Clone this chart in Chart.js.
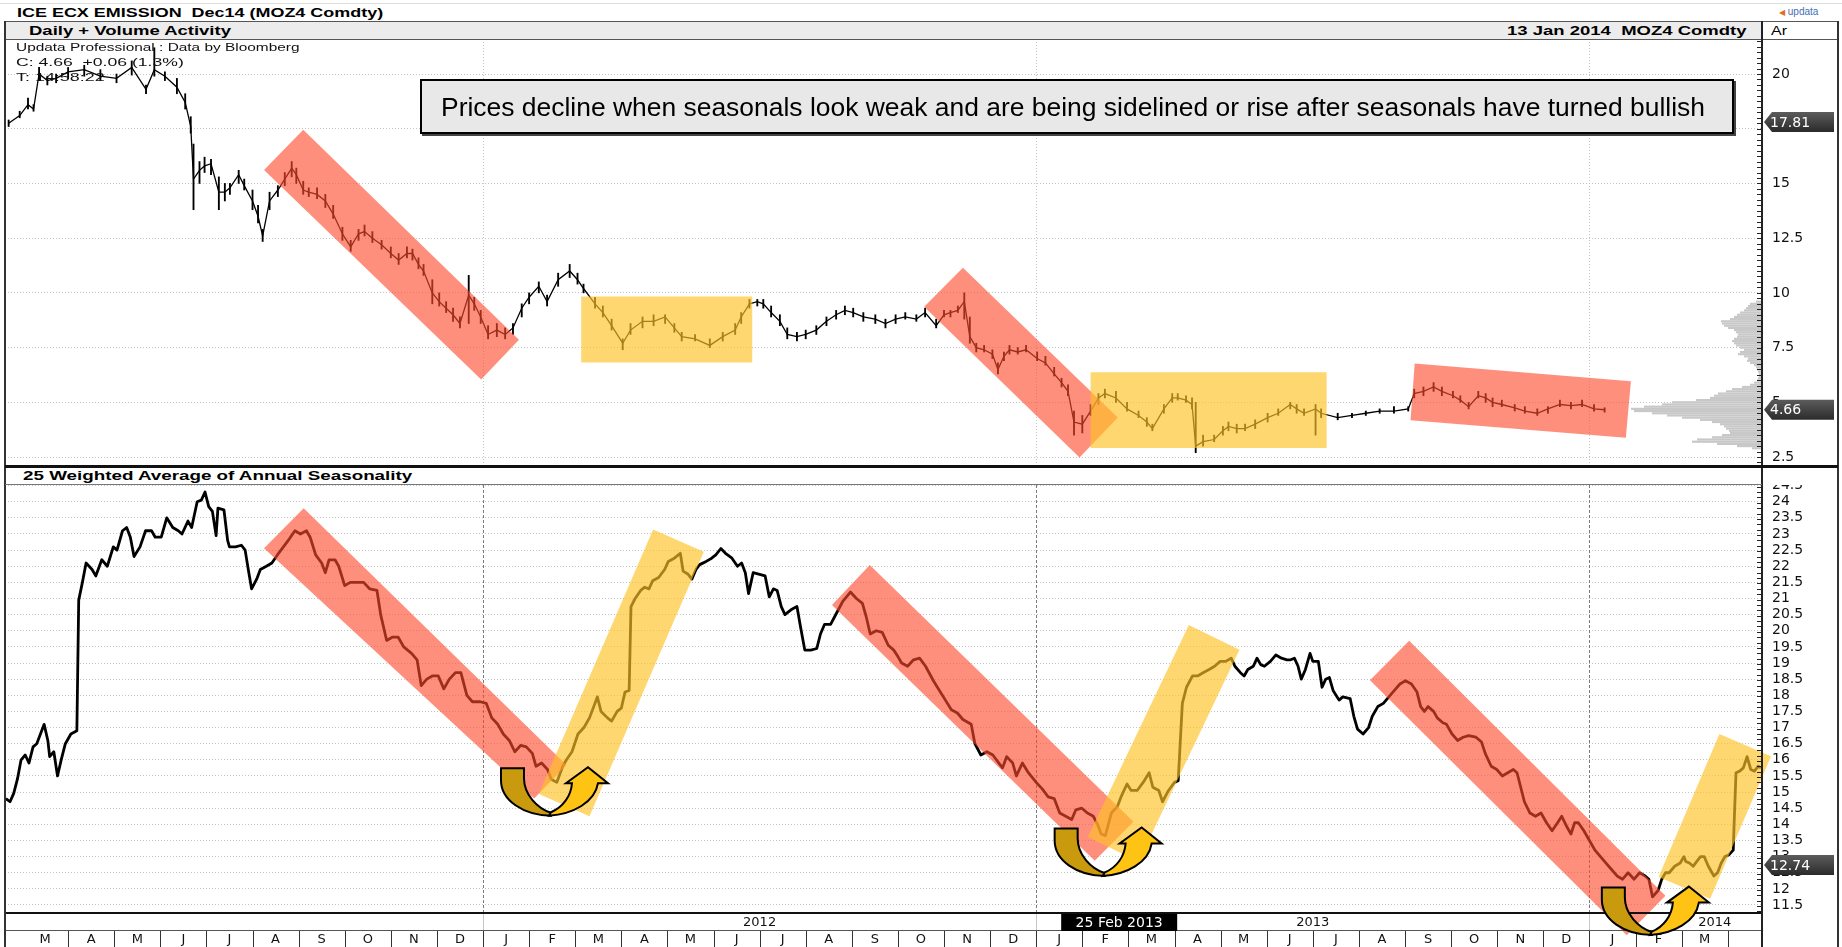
<!DOCTYPE html>
<html><head><meta charset="utf-8">
<script src="https://cdn.jsdelivr.net/npm/chart.js@4.4.1/dist/chart.umd.min.js"></script>
<style>
html,body{margin:0;padding:0;background:#fff;}
body{width:1842px;height:947px;position:relative;overflow:hidden;font-family:'Liberation Sans',Arial,sans-serif;color:#000;}
.abs{position:absolute;}
canvas{position:absolute;left:0;}
.fit{position:absolute;white-space:nowrap;transform-origin:0 50%;line-height:1;}
</style></head><body>

<canvas id="cTop" width="1842" height="427" style="top:39px"></canvas>
<canvas id="cBot" width="1842" height="462" style="top:485px"></canvas>

<!-- frame -->
<div class="abs" style="left:0;top:3px;width:1842px;height:1px;background:#dedede"></div>
<div class="abs" style="left:5px;top:21px;width:1757px;height:17px;background:#ececec;border-top:1px solid #555;border-bottom:1px solid #555"></div>
<div class="abs" style="left:1762px;top:21px;width:76px;height:17px;background:#fff;border-top:1px solid #555;border-bottom:1px solid #555"></div>
<div class="abs" style="left:4px;top:21px;width:2px;height:926px;background:#333"></div>
<div class="abs" style="left:1761px;top:21px;width:2px;height:926px;background:#222"></div>
<div class="abs" style="left:1837px;top:21px;width:2px;height:926px;background:#333"></div>
<div class="abs" style="left:5px;top:465px;width:1833px;height:3px;background:#111"></div>
<div class="abs" style="left:5px;top:484px;width:1757px;height:1px;background:#777"></div>

<!-- texts -->
<div class="fit" data-w="366" style="left:17px;top:12px;font-weight:bold;font-size:13px">ICE ECX EMISSION&nbsp; Dec14 (MOZ4 Comdty)</div>
<div class="abs" style="left:1779px;top:6px;font-size:10px;line-height:12px;color:#3f6fb5"><span style="color:#e07020;font-size:8px">&#9664;</span> updata</div>
<div class="fit" data-w="202" style="left:29px;top:30px;font-weight:bold;font-size:13px">Daily + Volume Activity</div>
<div class="fit" data-w="239" style="left:1507px;top:30px;font-weight:bold;font-size:13px">13 Jan 2014&nbsp; MOZ4 Comdty</div>
<div class="fit" data-w="16" style="left:1771px;top:30px;font-size:13px">Ar</div>
<div class="fit" data-w="283" style="left:16px;top:47px;font-size:11px;color:#111">Updata Professional : Data by Bloomberg</div>
<div class="fit" data-w="168" style="left:16px;top:62px;font-size:11px;color:#111">C: 4.66&nbsp; +0.06 (1.3%)</div>
<div class="fit" data-w="88" style="left:16px;top:77px;font-size:11px;color:#111">T: 14:58:22</div>
<div class="fit" data-w="390" style="left:23px;top:476px;font-weight:bold;font-size:12px">25 Weighted Average of Annual Seasonality</div>

<div class="abs" style="left:420px;top:79px;width:1314px;height:55px;box-sizing:border-box;border:2px solid #000;background:#e8e8e8;box-shadow:2px 2px 0 #444">
  <div class="fit" data-w="1264" style="left:19px;top:26px;font-size:26px;font-family:'Liberation Sans Narrow','Liberation Sans',Arial">Prices decline when seasonals look weak and are being sidelined or rise after seasonals have turned bullish</div>
</div>

<script>
// ================= DATA =================
// x values are months since 1 Jan 2011 (Jan 2011 = 0)
const monthStarts = [2,3,4,5,6,7,8,9,10,11,12,13,14,15,16,17,18,19,20,21,22,23,24,25,26,27,28,29,30,31,32,33,34,35,36,37,38,39];
const monthLabels = ['M','A','M','J','J','A','S','O','N','D','J','F','M','A','M','J','J','A','S','O','N','D','J','F','M','A','M','J','J','A','S','O','N','D','J','F','M',''];
const yearLabels = ['2012','2013','2014'];
const yearLabelPos = [18, 30, 38.72];
const yearStarts = [12, 24, 36];
const topTicks = [2.5,5,7.5,10,12.5,15,17.5,20];
const botTicks = [11.5,12,12.5,13,13.5,14,14.5,15,15.5,16,16.5,17,17.5,18,18.5,19,19.5,20,20.5,21,21.5,22,22.5,23,23.5,24,24.5];

// price bars: [month, low, high, close]
const priceBars = [
[1.71,17.6,17.9,17.75],[1.95,18.0,18.3,18.1],[2.13,18.4,18.9,18.6],[2.25,18.3,18.6,18.4],[2.37,19.7,20.3,20.0],
[2.55,19.5,19.9,19.7],[2.74,19.6,20.0,19.8],[3.0,19.8,20.3,20.1],[3.35,19.9,20.4,20.2],[3.7,19.7,20.2,19.9],
[4.05,19.6,20.0,19.8],[4.38,19.95,20.6,20.3],[4.69,19.1,19.5,19.3],[4.87,19.9,21.2,20.2],[5.1,19.7,20.1,19.9],
[5.36,19.1,19.8,19.4],[5.54,18.4,19.1,18.7],[5.66,17.3,18.05,17.6],[5.72,13.8,16.8,15.2],[5.85,15.0,16.0,15.6],
[5.96,15.5,16.2,15.8],[6.1,15.4,16.1,15.9],[6.27,13.8,15.3,14.6],[6.4,14.2,15.0,14.6],[6.51,14.5,15.0,14.8],
[6.7,15.0,15.6,15.4],[6.82,14.7,15.2,14.9],[7.0,13.8,14.7,14.2],[7.12,13.2,14.0,13.5],[7.22,12.35,12.9,12.6],
[7.37,13.8,14.6,14.2],[7.55,14.4,14.9,14.7],[7.7,14.9,15.5,15.2],[7.85,15.3,16.0,15.7],[7.95,15.0,15.7,15.4],
[8.1,14.5,15.1,14.7],[8.22,14.4,14.8,14.6],[8.4,14.3,14.8,14.5],[8.58,13.9,14.5,14.2],[8.75,13.4,14.0,13.6],
[8.95,12.4,13.0,12.7],[9.13,11.9,12.4,12.1],[9.3,12.4,12.9,12.7],[9.43,12.6,13.1,12.8],[9.6,12.3,12.8,12.5],
[9.8,12.0,12.4,12.2],[10.0,11.6,12.1,11.8],[10.17,11.3,11.8,11.5],[10.35,11.6,12.1,11.8],[10.47,11.5,12.0,11.8],
[10.6,11.1,11.6,11.3],[10.71,10.8,11.3,11.0],[10.9,9.5,10.6,10.0],[11.05,9.4,10.0,9.6],[11.2,9.1,9.6,9.3],
[11.35,8.7,9.3,9.0],[11.5,8.4,8.9,8.6],[11.69,8.6,10.8,9.9],[11.81,9.2,9.8,9.5],[11.95,8.6,9.2,8.9],
[12.11,7.9,8.5,8.1],[12.3,8.0,8.6,8.3],[12.48,7.9,8.4,8.1],[12.65,8.1,8.6,8.4],[12.84,8.9,9.5,9.3],
[13.0,9.5,10.0,9.8],[13.21,10.0,10.5,10.3],[13.39,9.4,9.9,9.6],[13.63,10.3,10.9,10.6],[13.88,10.7,11.3,11.0],
[14.05,10.4,10.9,10.6],[14.18,10.0,10.4,10.2],[14.43,9.3,9.8,9.5],[14.6,8.9,9.4,9.1],[14.79,8.3,8.8,8.5],
[15.03,7.4,7.9,7.7],[15.2,8.1,8.6,8.3],[15.46,8.4,8.9,8.7],[15.7,8.5,9.0,8.7],[15.95,8.6,9.0,8.9],
[16.15,8.2,8.6,8.4],[16.31,7.8,8.2,8.0],[16.6,7.8,8.1,7.9],[16.92,7.5,7.9,7.6],[17.2,7.8,8.2,8.0],
[17.47,8.1,8.6,8.3],[17.6,8.6,9.1,8.9],[17.78,9.3,9.7,9.5],[17.95,9.4,9.7,9.6],[18.08,9.3,9.7,9.5],
[18.25,8.9,9.4,9.1],[18.44,8.5,9.0,8.7],[18.6,7.9,8.4,8.1],[18.81,7.8,8.2,8.0],[19.0,7.9,8.3,8.1],
[19.23,8.1,8.5,8.3],[19.45,8.5,8.9,8.7],[19.66,8.8,9.2,9.0],[19.85,9.0,9.4,9.2],[20.03,8.9,9.3,9.1],
[20.25,8.7,9.1,8.9],[20.51,8.6,9.0,8.8],[20.73,8.4,8.8,8.6],[20.95,8.6,9.0,8.8],[21.16,8.8,9.1,8.9],
[21.4,8.7,9.0,8.8],[21.59,8.9,9.3,9.1],[21.83,8.4,8.8,8.5],[22.0,8.9,9.2,9.0],[22.14,8.9,9.2,9.1],
[22.3,9.1,9.4,9.2],[22.44,8.8,10.0,9.6],[22.56,7.7,8.9,8.0],[22.7,7.3,7.7,7.5],[22.87,7.3,7.6,7.4],
[23.05,7.0,7.4,7.2],[23.17,6.3,6.8,6.5],[23.3,6.9,7.3,7.1],[23.42,7.2,7.6,7.4],[23.6,7.2,7.5,7.3],
[23.78,7.3,7.6,7.4],[24.02,6.9,7.3,7.0],[24.2,6.7,7.1,6.8],[24.39,6.2,6.6,6.3],[24.55,5.7,6.1,5.9],
[24.69,5.3,5.8,5.5],[24.82,3.5,4.6,4.1],[25.0,3.6,4.4,4.0],[25.18,4.4,4.9,4.6],[25.35,4.9,5.4,5.2],
[25.49,5.2,5.6,5.4],[25.73,5.0,5.5,5.2],[25.97,4.6,5.0,4.7],[26.22,4.3,4.6,4.4],[26.4,3.9,4.3,4.1],
[26.52,3.7,4.0,3.8],[26.77,4.5,4.9,4.7],[26.95,5.0,5.4,5.2],[27.07,5.1,5.4,5.2],[27.25,5.0,5.3,5.1],
[27.38,4.7,5.2,4.9],[27.46,2.7,5.0,3.0],[27.62,3.0,3.5,3.2],[27.86,3.2,3.5,3.3],[28.05,3.5,3.9,3.7],
[28.17,3.7,4.1,3.9],[28.35,3.6,4.0,3.8],[28.53,3.7,4.0,3.8],[28.75,3.8,4.2,4.0],[29.02,4.1,4.5,4.3],
[29.25,4.4,4.7,4.5],[29.51,4.7,5.0,4.9],[29.65,4.5,4.9,4.7],[29.81,4.4,4.7,4.5],[30.06,3.5,4.9,4.7],
[30.18,4.3,4.7,4.5],[30.54,4.2,4.5,4.3],[30.85,4.3,4.5,4.4],[31.15,4.4,4.6,4.5],[31.45,4.5,4.7,4.6],
[31.76,4.5,4.8,4.6],[32.07,4.6,4.8,4.7],[32.2,5.2,5.6,5.4],[32.4,5.3,5.7,5.5],[32.62,5.5,5.9,5.7],
[32.8,5.3,5.7,5.5],[33.04,5.2,5.5,5.3],[33.2,5.0,5.3,5.1],[33.38,4.7,5.0,4.8],[33.59,5.2,5.5,5.3],
[33.75,5.0,5.4,5.2],[33.9,4.8,5.2,5.0],[34.1,4.8,5.1,4.9],[34.38,4.6,4.9,4.75],[34.6,4.5,4.8,4.6],
[34.87,4.4,4.7,4.5],[35.1,4.5,4.8,4.7],[35.36,4.8,5.1,4.9],[35.6,4.7,5.0,4.85],[35.84,4.8,5.1,4.9],
[36.1,4.6,4.9,4.7],[36.33,4.55,4.75,4.66]
];

// 25 weighted average of annual seasonality: [month, value]
const seasonality = [
[1.65,14.8],[1.74,14.7],[1.82,14.96],[1.9,15.4],[1.98,16.0],[2.07,16.15],[2.15,15.9],[2.24,16.4],[2.32,16.5],[2.4,16.8],
[2.48,17.1],[2.56,16.6],[2.6,16.1],[2.69,16.25],[2.77,15.5],[2.85,16.0],[2.94,16.5],[3.06,16.8],[3.19,16.9],[3.23,20.95],
[3.31,21.5],[3.39,22.1],[3.52,21.9],[3.6,21.7],[3.73,22.2],[3.85,22.0],[3.98,22.6],[4.06,22.5],[4.18,23.1],[4.27,23.2],
[4.35,22.9],[4.43,22.3],[4.56,22.6],[4.68,23.1],[4.81,23.1],[4.89,22.9],[5.02,22.9],[5.14,23.5],[5.27,23.2],[5.39,23.1],
[5.47,23.0],[5.6,23.4],[5.68,23.2],[5.8,24.0],[5.89,24.05],[5.97,24.3],[6.05,23.85],[6.13,23.7],[6.21,22.95],[6.25,23.8],
[6.38,23.75],[6.46,22.8],[6.5,22.6],[6.63,22.6],[6.76,22.65],[6.84,22.5],[6.92,21.8],[6.98,21.3],[7.09,21.6],[7.17,21.9],
[7.3,22.0],[7.42,22.1],[7.54,22.35],[7.67,22.6],[7.8,22.85],[7.92,23.1],[8.04,23.0],[8.17,23.1],[8.25,22.9],[8.37,22.35],
[8.5,22.1],[8.58,21.8],[8.66,22.2],[8.79,22.2],[8.87,22.0],[9.0,21.4],[9.12,21.5],[9.29,21.5],[9.41,21.5],[9.54,21.3],
[9.7,21.25],[9.78,20.5],[9.91,19.7],[10.03,19.8],[10.16,19.8],[10.28,19.5],[10.45,19.3],[10.57,19.1],[10.66,18.3],[10.78,18.5],
[10.9,18.6],[11.03,18.6],[11.15,18.2],[11.27,18.5],[11.4,18.7],[11.52,18.7],[11.65,18.0],[11.77,17.8],[11.94,17.8],[12.07,17.75],
[12.19,17.3],[12.32,17.1],[12.44,16.8],[12.57,16.6],[12.69,16.25],[12.82,16.45],[12.94,16.4],[13.07,16.2],[13.15,15.8],[13.27,15.9],
[13.4,15.7],[13.48,15.4],[13.6,15.3],[13.73,15.8],[13.81,16.0],[13.93,16.25],[14.06,16.8],[14.19,17.0],[14.31,17.3],[14.48,17.95],
[14.56,17.5],[14.7,17.3],[14.79,17.2],[14.91,17.5],[15.0,17.6],[15.08,18.1],[15.17,18.15],[15.21,20.75],[15.3,21.0],[15.42,21.25],
[15.51,21.35],[15.6,21.3],[15.68,21.55],[15.81,21.65],[15.94,21.9],[16.02,22.15],[16.15,22.25],[16.28,22.4],[16.34,21.85],[16.45,21.75],
[16.53,21.6],[16.62,21.9],[16.7,22.05],[16.84,22.15],[16.96,22.25],[17.05,22.35],[17.16,22.55],[17.26,22.4],[17.4,22.25],[17.52,22.0],
[17.61,22.1],[17.69,21.8],[17.76,21.15],[17.86,21.8],[18.0,21.75],[18.12,21.7],[18.21,21.05],[18.3,21.3],[18.38,21.25],[18.47,20.75],
[18.55,20.5],[18.68,20.65],[18.81,20.75],[18.89,20.1],[18.98,19.4],[19.11,19.4],[19.24,19.45],[19.32,19.9],[19.41,20.2],[19.54,20.2],
[19.67,20.55],[19.8,20.9],[19.97,21.2],[20.1,21.0],[20.23,20.85],[20.31,20.45],[20.4,19.9],[20.53,20.0],[20.66,19.95],[20.79,19.55],
[20.91,19.4],[21.0,19.2],[21.08,19.0],[21.21,18.9],[21.34,19.1],[21.47,19.15],[21.6,18.9],[21.77,18.45],[21.9,18.15],[22.03,17.85],
[22.16,17.55],[22.29,17.45],[22.41,17.25],[22.59,17.1],[22.67,16.5],[22.8,16.15],[22.93,16.25],[23.06,16.15],[23.19,15.9],[23.27,15.75],
[23.36,16.1],[23.49,15.9],[23.57,15.5],[23.7,15.9],[23.83,15.6],[24.0,15.3],[24.13,15.1],[24.26,14.85],[24.39,14.8],[24.51,14.35],
[24.64,14.25],[24.77,14.15],[24.86,14.45],[24.99,14.5],[25.11,14.35],[25.24,14.25],[25.33,14.0],[25.41,13.7],[25.5,13.65],[25.63,14.35],
[25.76,14.55],[25.84,14.85],[25.97,15.25],[26.06,15.05],[26.19,15.05],[26.32,15.3],[26.45,15.6],[26.53,15.15],[26.66,15.05],[26.74,14.7],
[26.87,15.05],[27.0,15.3],[27.08,15.35],[27.17,17.75],[27.26,18.25],[27.39,18.6],[27.5,18.6],[27.62,18.7],[27.75,18.8],[27.87,18.9],
[27.99,19.05],[28.11,19.05],[28.23,19.15],[28.31,18.9],[28.43,18.7],[28.51,18.6],[28.59,18.8],[28.71,18.9],[28.79,19.15],[28.87,18.95],
[28.95,18.9],[29.08,19.05],[29.2,19.25],[29.32,19.15],[29.44,19.1],[29.52,19.1],[29.6,19.15],[29.68,18.9],[29.75,18.5],[29.84,18.8],
[29.94,19.3],[30.0,19.05],[30.12,19.05],[30.2,18.25],[30.28,18.5],[30.36,18.55],[30.44,18.15],[30.57,17.85],[30.65,17.95],[30.81,17.9],
[30.89,17.35],[30.97,16.95],[31.09,16.8],[31.21,17.0],[31.29,17.35],[31.41,17.65],[31.53,17.75],[31.65,17.95],[31.77,18.15],[31.89,18.35],
[32.01,18.45],[32.14,18.35],[32.26,18.1],[32.34,17.65],[32.42,17.5],[32.5,17.65],[32.62,17.5],[32.7,17.3],[32.82,17.15],[32.9,17.1],
[33.02,16.8],[33.14,16.6],[33.26,16.7],[33.38,16.75],[33.54,16.7],[33.66,16.55],[33.74,16.2],[33.87,15.8],[33.99,15.7],[34.11,15.5],
[34.23,15.6],[34.35,15.7],[34.43,15.6],[34.51,15.15],[34.59,14.7],[34.71,14.35],[34.83,14.25],[34.95,14.35],[35.07,14.05],[35.19,13.8],
[35.31,14.05],[35.4,14.25],[35.52,13.9],[35.6,13.7],[35.68,14.05],[35.76,14.05],[35.88,13.8],[36.0,13.5],[36.12,13.2],[36.24,13.0],
[36.36,12.8],[36.48,12.6],[36.6,12.4],[36.72,12.3],[36.84,12.5],[36.97,12.3],[37.09,12.5],[37.21,12.4],[37.29,12.3],[37.37,11.75],
[37.49,11.95],[37.57,12.3],[37.65,12.5],[37.73,12.5],[37.85,12.7],[37.97,12.8],[38.05,13.0],[38.09,12.85],[38.17,12.8],[38.25,12.7],
[38.33,12.85],[38.41,13.0],[38.49,13.0],[38.58,12.7],[38.7,12.4],[38.78,12.5],[38.86,12.8],[38.94,13.0],[39.02,13.05],[39.12,13.2],
[39.14,14.05],[39.18,15.6],[39.26,15.65],[39.34,15.75],[39.42,16.1],[39.5,15.7],[39.58,15.65],[39.66,15.8],[39.72,15.75]
];

// volume-at-price profile: price levels and relative volume
const volLevels = [2.9,3.0,3.1,3.2,3.3,3.4,3.5,3.6,3.7,3.8,3.9,4.0,4.1,4.2,4.3,4.4,4.5,4.6,4.7,4.8,4.9,5.0,5.1,5.2,5.3,5.4,5.5,5.6,5.7,5.8,5.9,6.0,6.1,6.2,6.3,6.4,6.5,6.6,6.7,6.8,6.9,7.0,7.1,7.2,7.3,7.4,7.5,7.6,7.7,7.8,7.9,8.0,8.1,8.2,8.3,8.4,8.5,8.6,8.7,8.8,8.9,9.0,9.1,9.2,9.3,9.4,9.5,9.6];
const volAmount = [10,25,45,70,65,50,40,32,33,36,38,42,50,62,80,95,110,128,131,118,100,90,66,52,48,44,36,30,20,12,8,5,4,3,3,4,5,6,8,12,15,14,18,24,22,18,22,26,28,30,28,25,24,26,28,34,38,40,41,32,28,25,22,18,16,14,12,6];

const lastTagsTop = [17.81, 4.66];
const lastTagsBot = [12.74];
const cursorMonth = 25.8, cursorLabel = '25 Feb 2013';

// annotation geometry in data coordinates [month, value]
const topBands = [
 {kind:'red', pts:[[8.10,17.45],[12.78,7.86],[11.96,6.04],[7.25,15.62]]},
 {kind:'yel', pts:[[14.13,9.83],[17.84,9.83],[17.84,6.82],[14.13,6.82]]},
 {kind:'red', pts:[[22.41,11.15],[25.77,4.31],[24.94,2.48],[21.57,9.37]]},
 {kind:'yel', pts:[[25.18,6.37],[30.3,6.37],[30.3,2.91],[25.18,2.91]]},
 {kind:'red', pts:[[32.21,6.77],[36.9,5.96],[36.79,3.38],[32.12,4.18]]}
];
const botBands = [
 {kind:'red', pts:[[8.11,23.8],[13.81,15.84],[13.11,14.8],[7.25,22.56]]},
 {kind:'red', pts:[[20.39,22.04],[26.11,14.08],[25.27,12.87],[19.57,20.8]]},
 {kind:'red', pts:[[32.09,19.69],[37.65,11.79],[36.81,10.56],[31.24,18.47]]},
 {kind:'yel', pts:[[15.69,23.14],[16.79,22.45],[14.31,14.25],[13.21,14.94]]},
 {kind:'yel', pts:[[27.31,20.18],[28.41,19.41],[26.22,12.85],[25.12,13.61]]},
 {kind:'yel', pts:[[38.82,16.80],[39.94,16.11],[38.62,11.69],[37.5,12.37]]}
];
const turnArrows = [[12.39,15.74],[24.40,13.87],[36.27,12.04]];

// ================= STYLE / LAYOUT =================
const X_MIN = 1.631, X_MAX = 39.744;
const TOP_MIN = 2.09, TOP_MAX = 21.6;
const BOT_MIN = 11.252, BOT_MAX = 24.518;
const RED = 'rgba(255,75,45,0.62)', YEL = 'rgba(255,195,40,0.66)';
const TICKFONT = {family:'DejaVu Sans', size:14};

document.querySelectorAll('.fit').forEach(el=>{
  const w = parseFloat(el.dataset.w), r = el.offsetWidth;
  el.style.transform = 'translateY(-50%) scaleX(' + (w/r) + ')';
});

function fixW(s){ s.width = 76; s.paddingTop = 0; s.paddingBottom = 0; }
function fixH(h){ return s=>{ s.height = h; s.paddingLeft = 0; s.paddingRight = 0; }; }

function drawBand(ctx, ch, b){
  ctx.save(); ctx.beginPath();
  b.pts.forEach((p,i)=>{ const x=ch.scales.x.getPixelForValue(p[0]), y=ch.scales.y.getPixelForValue(p[1]); i?ctx.lineTo(x,y):ctx.moveTo(x,y); });
  ctx.closePath(); ctx.fillStyle = b.kind==='red'?RED:YEL; ctx.fill(); ctx.restore();
}
function drawTag(ctx, x, y, text){
  ctx.save(); ctx.beginPath();
  ctx.moveTo(x+2,y); ctx.lineTo(x+10,y-10); ctx.lineTo(x+72,y-10); ctx.lineTo(x+72,y+10); ctx.lineTo(x+10,y+10); ctx.closePath();
  const g = ctx.createLinearGradient(0,y-10,0,y+10); g.addColorStop(0,'#5c5c5c'); g.addColorStop(1,'#2b2b2b');
  ctx.fillStyle=g; ctx.fill();
  ctx.fillStyle='#fff'; ctx.font='14px "DejaVu Sans"'; ctx.textBaseline='middle'; ctx.textAlign='left';
  ctx.fillText(text, x+8, y+1); ctx.restore();
}
function drawTurn(ctx, x0, y0){
  ctx.save(); ctx.translate(x0,y0); ctx.lineWidth=2; ctx.strokeStyle='#000'; ctx.lineJoin='miter';
  ctx.beginPath(); ctx.moveTo(0,0); ctx.lineTo(0,12); ctx.bezierCurveTo(0,32,22,47,50,47.5); ctx.lineTo(50,44.5);
  ctx.bezierCurveTo(36,40,23,26,23,10); ctx.lineTo(23,0); ctx.closePath();
  ctx.fillStyle='#C99A0E'; ctx.fill(); ctx.stroke();
  ctx.beginPath(); ctx.moveTo(48,47.5); ctx.bezierCurveTo(72,46,94,34,97,15); ctx.lineTo(107,15); ctx.lineTo(87,-1);
  ctx.lineTo(65,15); ctx.lineTo(71,15); ctx.bezierCurveTo(70,28,62,39,50,44); ctx.closePath();
  ctx.fillStyle='#FFC314'; ctx.fill(); ctx.stroke();
  ctx.restore();
}
function minorTicks(ctx, ch, step, lo, hi){
  const ys = ch.scales.y, x = ch.chartArea.right;
  ctx.save(); ctx.strokeStyle='#222'; ctx.lineWidth=1; ctx.beginPath();
  for(let v=lo; v<=hi+1e-9; v+=step){ const y=Math.round(ys.getPixelForValue(v))+0.5; if(y<0||y>ch.chartArea.bottom) continue; ctx.moveTo(x-5,y); ctx.lineTo(x,y); }
  ctx.stroke(); ctx.restore();
}

// ================= TOP CHART =================
const topPlugin = {
  id:'topDeco',
  beforeDatasetsDraw(ch){
    const ctx=ch.ctx, a=ch.chartArea, xs=ch.scales.x, ys=ch.scales.y;
    ctx.save(); ctx.strokeStyle='#c4c4c4'; ctx.setLineDash([1,2]); ctx.lineWidth=1;
    yearStarts.forEach(m=>{ const x=Math.round(xs.getPixelForValue(m))+0.5; ctx.beginPath(); ctx.moveTo(x,a.top); ctx.lineTo(x,a.bottom); ctx.stroke(); });
    ctx.restore();
    ctx.save(); ctx.fillStyle='#c8c8c8';
    volLevels.forEach((lv,i)=>{ const y=ys.getPixelForValue(lv); const len=volAmount[i]*1.0; ctx.fillRect(a.right-len, y-1.1, len, 2.2); });
    ctx.restore();
  },
  afterDatasetsDraw(ch){ topBands.forEach(b=>drawBand(ch.ctx,ch,b)); },
  afterDraw(ch){
    const ctx=ch.ctx;
    minorTicks(ctx, ch, 0.25, 2.25, 21.5);
    lastTagsTop.forEach(v=>drawTag(ctx, ch.chartArea.right, ch.scales.y.getPixelForValue(v), v.toFixed(2)));
  }
};

new Chart(document.getElementById('cTop'), {
  type:'line',
  data:{ datasets:[
    { type:'line', data: priceBars.map(p=>({x:p[0], y:p[3]})), borderColor:'#000', borderWidth:1.3, pointRadius:0, tension:0 },
    { type:'bar', data: priceBars.map(p=>({x:p[0], y:[p[1],p[2]]})), backgroundColor:'#000', barThickness:1.2, grouped:false }
  ]},
  options:{
    responsive:false, animation:false, devicePixelRatio:1,
    layout:{padding:{left:5,right:4,top:0,bottom:0}},
    plugins:{legend:{display:false}, tooltip:{enabled:false}},
    scales:{
      x:{ type:'linear', display:false, min:X_MIN, max:X_MAX, bounds:'data', offset:false, grid:{offset:false} },
      y:{ type:'linear', position:'right', min:TOP_MIN, max:TOP_MAX, bounds:'data',
          afterBuildTicks(s){ s.ticks = topTicks.map(v=>({value:v})); },
          afterFit: fixW,
          ticks:{ font:TICKFONT, color:'#111', padding:10, autoSkip:false, callback:v=>String(v) },
          grid:{ color:'#c4c4c4', lineWidth:1, drawTicks:false },
          border:{ display:false, dash:[1,2] } }
    }
  },
  plugins:[topPlugin]
});

// ================= BOTTOM CHART =================
const botPlugin = {
  id:'botDeco',
  beforeDatasetsDraw(ch){
    const ctx=ch.ctx, a=ch.chartArea, xs=ch.scales.x;
    ctx.save(); ctx.lineWidth=1;
    yearStarts.forEach(m=>{ const x=Math.round(xs.getPixelForValue(m))+0.5;
      ctx.strokeStyle='#7a7a7a'; ctx.setLineDash([3,2]); ctx.beginPath(); ctx.moveTo(x,a.top); ctx.lineTo(x,a.bottom); ctx.stroke();
      ctx.strokeStyle='#c8c8c8'; ctx.setLineDash([]); ctx.beginPath(); ctx.moveTo(x,a.bottom); ctx.lineTo(x,a.bottom+18); ctx.stroke(); });
    ctx.restore();
  },
  afterDatasetsDraw(ch){ botBands.forEach(b=>drawBand(ch.ctx,ch,b)); },
  afterDraw(ch){
    const ctx=ch.ctx, a=ch.chartArea, xs=ch.scales.x, ys=ch.scales.y;
    ctx.save(); ctx.fillStyle='#111'; ctx.fillRect(a.left, a.bottom-1, a.right-a.left, 2);
    ctx.fillStyle='#555'; ctx.fillRect(a.left, a.bottom+17, a.right-a.left, 1);
    ctx.strokeStyle='#333'; ctx.lineWidth=1; ctx.beginPath();
    monthStarts.forEach((m,i)=>{ if(i===0) return; const x=Math.round(xs.getPixelForValue(m))+0.5; ctx.moveTo(x,a.bottom+18); ctx.lineTo(x,ch.height); });
    ctx.stroke(); ctx.restore();
    minorTicks(ctx, ch, 0.5/3, 11.3, 24.5);
    const cx = xs.getPixelForValue(cursorMonth);
    ctx.save(); ctx.fillStyle='#000'; ctx.fillRect(cx-58, a.bottom+1, 116, 17);
    ctx.fillStyle='#fff'; ctx.font='14px "DejaVu Sans"'; ctx.textAlign='center'; ctx.textBaseline='middle';
    ctx.fillText(cursorLabel, cx, a.bottom+10); ctx.restore();
    turnArrows.forEach(p=>drawTurn(ctx, xs.getPixelForValue(p[0]), ys.getPixelForValue(p[1])));
    lastTagsBot.forEach(v=>drawTag(ctx, a.right, ys.getPixelForValue(v), v.toFixed(2)));
  }
};

new Chart(document.getElementById('cBot'), {
  type:'line',
  data:{ datasets:[
    { data: seasonality.map(p=>({x:p[0], y:p[1]})), borderColor:'#000', borderWidth:2.8, pointRadius:0, tension:0, borderJoinStyle:'round' }
  ]},
  options:{
    responsive:false, animation:false, devicePixelRatio:1,
    layout:{padding:{left:5,right:4,top:0,bottom:0}},
    plugins:{legend:{display:false}, tooltip:{enabled:false}},
    scales:{
      x:{ type:'linear', position:'bottom', weight:2, min:X_MIN, max:X_MAX, bounds:'data', offset:false,
          afterBuildTicks(s){ s.ticks = monthStarts.map(m=>({value:m+0.5})); },
          afterFit: fixH(16),
          ticks:{ font:{family:'DejaVu Sans', size:13}, color:'#111', padding:1, autoSkip:false, maxRotation:0,
                  callback:(v,i)=>monthLabels[i] },
          grid:{ display:false, drawTicks:false, offset:false }, border:{display:false} },
      xYear:{ type:'linear', position:'bottom', weight:1, min:X_MIN, max:X_MAX, bounds:'data', offset:false,
          afterBuildTicks(s){ s.ticks = yearLabelPos.map(v=>({value:v})); },
          afterFit: fixH(18),
          ticks:{ font:{family:'DejaVu Sans', size:13}, color:'#111', padding:2, autoSkip:false, maxRotation:0,
                  callback:(v,i)=>yearLabels[i] },
          grid:{ display:false, drawTicks:false }, border:{display:false} },
      y:{ type:'linear', position:'right', min:BOT_MIN, max:BOT_MAX, bounds:'data',
          afterBuildTicks(s){ s.ticks = botTicks.map(v=>({value:v})); },
          afterFit: fixW,
          ticks:{ font:TICKFONT, color:'#111', padding:10, autoSkip:false, callback:v=>String(v) },
          grid:{ color:'#c4c4c4', lineWidth:1, drawTicks:false },
          border:{ display:false, dash:[1,2] } }
    }
  },
  plugins:[botPlugin]
});
</script>
</body></html>
